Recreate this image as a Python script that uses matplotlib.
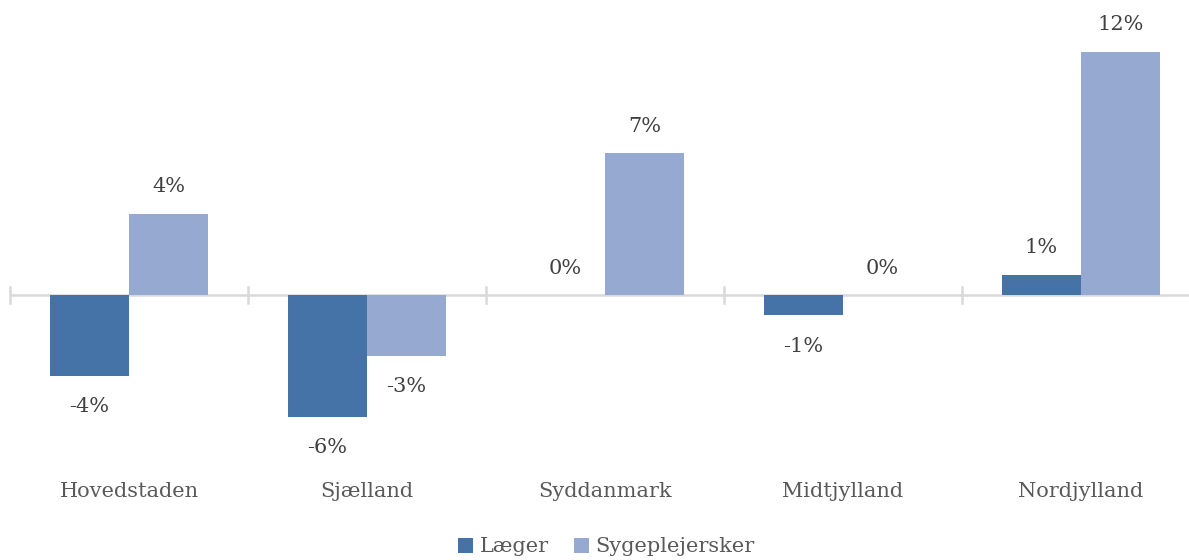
import matplotlib
matplotlib.use("Agg")
import matplotlib.pyplot as plt
import matplotlib.transforms as mtransforms
import numpy as np

categories = ["Hovedstaden", "Sjælland", "Syddanmark", "Midtjylland", "Nordjylland"]
laeger = [-4.0, -6.0, 0.0, -1.0, 1.0]
sygeplejersker = [4.0, -3.0, 7.0, 0.0, 12.0]
series_names = ["Læger", "Sygeplejersker"]
colors = ["#4572A7", "#95A9D1"]

plt.rcParams['font.family'] = ['DejaVu Serif']

W, H = 1189, 560
fig = plt.figure(figsize=(W / 100, H / 100), dpi=100)
ax_left = 10 / W
ax_bottom = (H - 460) / H
ax = fig.add_axes([ax_left, ax_bottom, 1 - ax_left, 440 / H])

x = np.arange(len(categories))
bw = 0.332
b1 = ax.bar(x - bw / 2, laeger, bw, color=colors[0], linewidth=0, label=series_names[0], zorder=2)
b2 = ax.bar(x + bw / 2, sygeplejersker, bw, color=colors[1], linewidth=0, label=series_names[1], zorder=2)

ax.set_xlim(-0.5, 4.5 - 11 / 238)
ax.set_ylim(-(460 - 295) / 20.25, (295 - 20) / 20.25)

for s in ax.spines.values():
    s.set_visible(False)
ax.set_xticks([])
ax.set_yticks([])

# zero axis line
ax.axhline(0, color="#d9d9d9", linewidth=1.8, zorder=1)
# tick marks at category boundaries
trans = mtransforms.blended_transform_factory(ax.transData, ax.transAxes)
y0_axes = (0 - ax.get_ylim()[0]) / (ax.get_ylim()[1] - ax.get_ylim()[0])
tick_half = 8 / 440
for b in np.arange(len(categories)) - 0.5:
    ax.plot([b, b], [y0_axes - tick_half, y0_axes + tick_half], transform=trans,
            color="#d9d9d9", linewidth=1.8, zorder=1, clip_on=False)

fs = 15
# data labels
for bars, vals in [(b1, laeger), (b2, sygeplejersker)]:
    for rect, v in zip(bars, vals):
        cx = rect.get_x() + rect.get_width() / 2
        if v >= 0:
            ax.annotate(f"{v:.0f}%", (cx, v), xytext=(0, 27 * 0.72), textcoords="offset points",
                        ha="center", va="center", fontsize=fs, color="#404040")
        else:
            ax.annotate(f"{v:.0f}%", (cx, v), xytext=(0, -31 * 0.72), textcoords="offset points",
                        ha="center", va="center", fontsize=fs, color="#404040")

# category labels
for xi, c in zip(x, categories):
    ax.text(xi, 1 - (491 - 20) / 440, c, transform=trans, ha="center", va="center",
            fontsize=fs, color="#595959")

leg = fig.legend(handles=[b1, b2], labels=series_names, loc="center", bbox_to_anchor=(0.51, 1 - 547 / H),
                 ncol=2, frameon=False, fontsize=fs, handlelength=0.75, handleheight=0.75,
                 handletextpad=0.3, columnspacing=1.2, labelcolor="#595959")

fig.savefig("out.png", dpi=100)
